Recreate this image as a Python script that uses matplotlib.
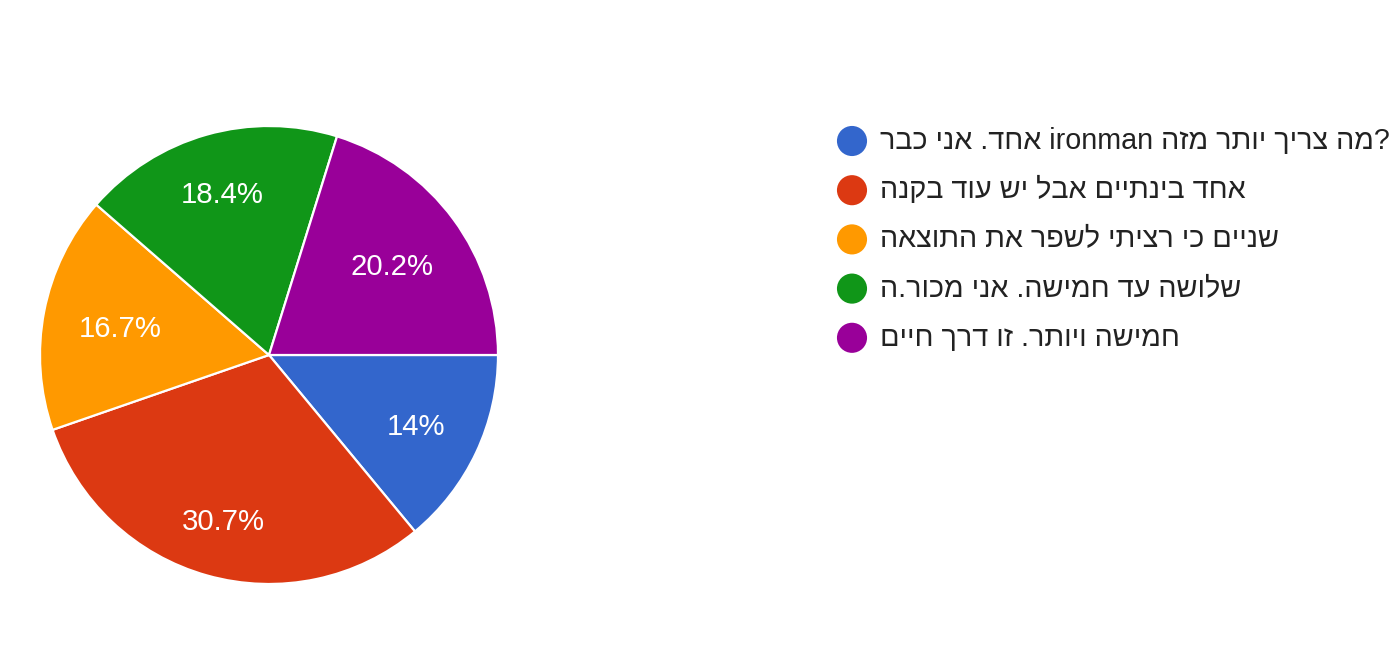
import re
import numpy as np
import matplotlib
matplotlib.use("Agg")
import matplotlib.pyplot as plt

plt.rcParams['font.family'] = ['Liberation Sans', 'DejaVu Sans']

# answers (logical order, as typed in the form)
labels = [
    "אחד. אני כבר ironman מה צריך יותר מזה?",
    "אחד בינתיים אבל יש עוד בקנה",
    "שניים כי רציתי לשפר את התוצאה",
    "שלושה עד חמישה. אני מכור.ה",
    "חמישה ויותר. זו דרך חיים",
]
shares = [14.0, 30.7, 16.7, 18.4, 20.2]
pct_text = ["14%", "30.7%", "16.7%", "18.4%", "20.2%"]
colors = ["#3366cc", "#dc3912", "#ff9900", "#109618", "#990099"]


def visual(s):
    # matplotlib draws left to right, so flip each hebrew run (LTR paragraph)
    out = []
    for part in re.split(r'([A-Za-z0-9]+)', s):
        heb = [i for i, c in enumerate(part) if '\u0590' <= c <= '\u05ff']
        if not heb:
            out.append(part)
            continue
        a, b = heb[0], heb[-1] + 1
        out.append(part[:a] + part[a:b][::-1] + part[b:])
    return "".join(out)


R_PX = 229.0
fig = plt.figure(figsize=(14, 6.64), dpi=100)
ax = fig.add_axes([40 / 1400, 80 / 664, 458 / 1400, 458 / 664])
wedges, _ = ax.pie(shares, colors=colors, startangle=0, counterclock=False,
                   wedgeprops=dict(edgecolor="white", linewidth=1.6))
for w in wedges:
    w.set_clip_on(False)
ax.set_xlim(-1, 1)
ax.set_ylim(-1, 1)
ax.set_aspect("equal")

# percentage labels: keep the outer side of each label box at ~0.85 R
renderer = fig.canvas.get_renderer()
ang = 0.0
for v, t in zip(shares, pct_text):
    mid = np.deg2rad(ang - v * 3.6 / 2)
    txt = ax.text(0, 0, t, color="white", fontsize=21.2,
                  ha="center", va="center")
    bb = txt.get_window_extent(renderer)
    reach = bb.width / 2 * abs(np.cos(mid)) + bb.height / 2 * abs(np.sin(mid))
    r = (0.85 * R_PX - reach) / R_PX
    # small drop so the digits, not the full text box, sit on the anchor
    txt.set_position((r * np.cos(mid), r * np.sin(mid) - 3 / R_PX))
    ang -= v * 3.6

# legend drawn on an overlay in pixel units
lg = fig.add_axes([0, 0, 1, 1])
lg.set_xlim(0, 1400)
lg.set_ylim(664, 0)
lg.axis("off")
for i, (lab, c) in enumerate(zip(labels, colors)):
    y = 141 + i * 49.2
    lg.scatter([852], [y], s=470, color=c, edgecolors="none")
    lg.text(880, y, visual(lab), fontsize=20.7, color="#222222",
            ha="left", va="center")

fig.savefig("out.png", dpi=100)
